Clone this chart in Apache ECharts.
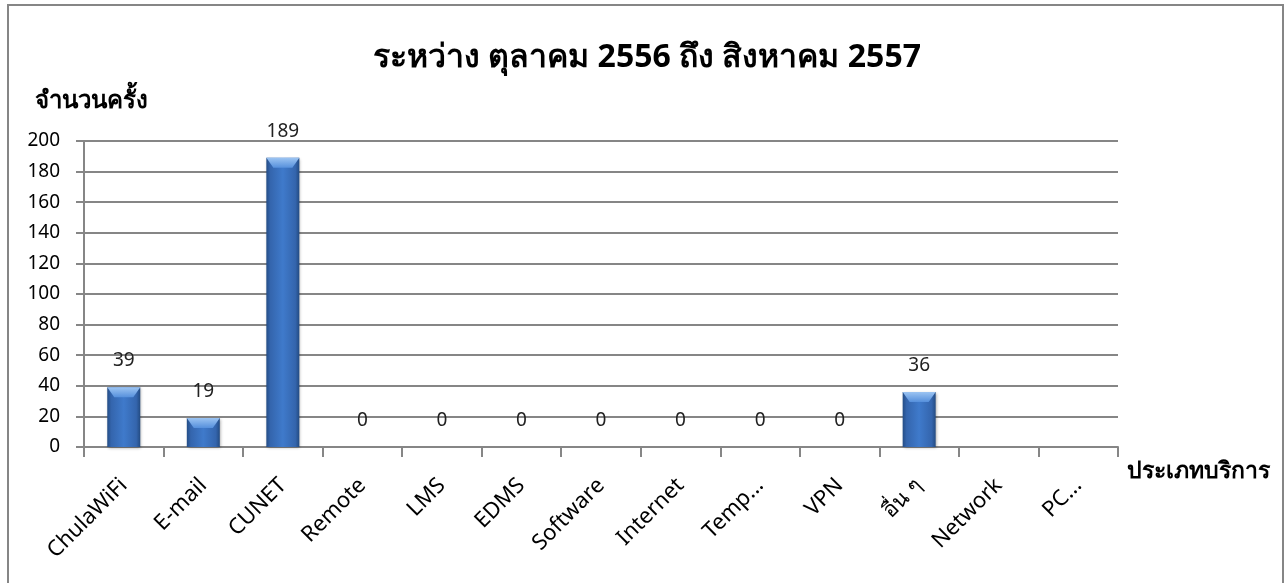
<!DOCTYPE html>
<html>
<head>
<meta charset="utf-8">
<script src="https://cdn.jsdelivr.net/npm/echarts@6/dist/echarts.min.js"></script>
<style>
  html, body { margin: 0; padding: 0; background: #ffffff; }
  #chart { width: 1286px; height: 583px; }
</style>
</head>
<body>
<div id="chart"></div>
<script>
// Service categories and number of requests per category
const categories = ['ChulaWiFi', 'E-mail', 'CUNET', 'Remote', 'LMS', 'EDMS', 'Software',
  'Internet', 'Temp...', 'VPN', 'อื่น ๆ', 'Network', 'PC...'];
const requestCounts = [39, 19, 189, 0, 0, 0, 0, 0, 0, 0, 36, null, null];

const titleText = 'ระหว่าง ตุลาคม 2556 ถึง สิงหาคม 2557';
const yAxisTitle = 'จำนวนครั้ง';
const xAxisTitle = 'ประเภทบริการ';
const yTicks = { min: 0, max: 200, interval: 20 };

const FONT = '"Noto Sans", "DejaVu Sans", sans-serif';
const AXIS_GREY = '#868686';

const chart = echarts.init(document.getElementById('chart'), null, { renderer: 'canvas' });

const barFill = new echarts.graphic.LinearGradient(0, 0, 1, 0, [
  { offset: 0, color: '#244d86' },
  { offset: 0.12, color: '#3465ad' },
  { offset: 0.5, color: '#3f7acb' },
  { offset: 0.88, color: '#3465ad' },
  { offset: 1, color: '#234b82' }
]);
const bevelFill = new echarts.graphic.LinearGradient(0, 0, 0, 1, [
  { offset: 0, color: '#9cc4f2' },
  { offset: 1, color: '#5690dc' }
]);

chart.setOption({
  animation: false,
  backgroundColor: '#ffffff',
  title: {
    text: titleText,
    left: 642,
    top: 37,
    textAlign: 'center',
    textStyle: { fontFamily: FONT, fontWeight: 'bold', fontSize: 32, color: '#000000' }
  },
  grid: { left: 84, right: 168, top: 141, bottom: 136, containLabel: false },
  xAxis: {
    type: 'category',
    data: categories,
    boundaryGap: true,
    axisLine: { show: true, lineStyle: { color: AXIS_GREY, width: 2 } },
    axisTick: { show: true, length: 10, inside: false, lineStyle: { color: AXIS_GREY, width: 2 } },
    axisLabel: {
      interval: 0,
      rotate: 45,
      margin: 35,
      fontFamily: FONT,
      fontSize: 22,
      color: '#000000'
    },
    splitLine: { show: false }
  },
  yAxis: {
    type: 'value',
    min: yTicks.min,
    max: yTicks.max,
    interval: yTicks.interval,
    axisLine: { show: true, lineStyle: { color: AXIS_GREY, width: 2 } },
    axisTick: { show: true, length: 8, lineStyle: { color: AXIS_GREY, width: 2 } },
    axisLabel: { margin: 24, fontFamily: FONT, fontSize: 19, color: '#000000' },
    splitLine: { show: true, lineStyle: { color: AXIS_GREY, width: 2 } }
  },
  graphic: [
    {
      type: 'rect',
      silent: true,
      shape: { x: 8, y: 5, width: 1275, height: 600 },
      style: { fill: 'none', stroke: AXIS_GREY, lineWidth: 2 }
    },
    {
      type: 'text',
      left: 35,
      top: 89,
      style: { text: yAxisTitle, font: 'bold 24px ' + FONT, fill: '#000000' }
    },
    {
      type: 'text',
      left: 1127,
      top: 460,
      style: { text: xAxisTitle, font: 'bold 23px ' + FONT, fill: '#000000' }
    }
  ],
  series: [
    {
      name: 'requests',
      type: 'bar',
      data: requestCounts,
      barWidth: 33,
      itemStyle: {
        color: barFill,
        shadowColor: 'rgba(0,0,0,0.35)',
        shadowBlur: 3,
        shadowOffsetX: 1,
        shadowOffsetY: 1
      },
      label: {
        show: true,
        position: 'top',
        distance: 17,
        fontFamily: FONT,
        fontSize: 19,
        color: '#222222'
      },
      z: 2
    },
    {
      // bevelled top face of each non-empty bar
      name: 'bevel',
      type: 'pictorialBar',
      data: requestCounts.map(v => (v > 0 ? v : null)),
      symbol: 'path://M0,0 L33,0 L26,10 L7,10 Z',
      symbolSize: [33, 10],
      symbolPosition: 'end',
      symbolOffset: [0, 0],
      itemStyle: { color: bevelFill },
      silent: true,
      z: 3
    }
  ]
});
</script>
</body>
</html>
